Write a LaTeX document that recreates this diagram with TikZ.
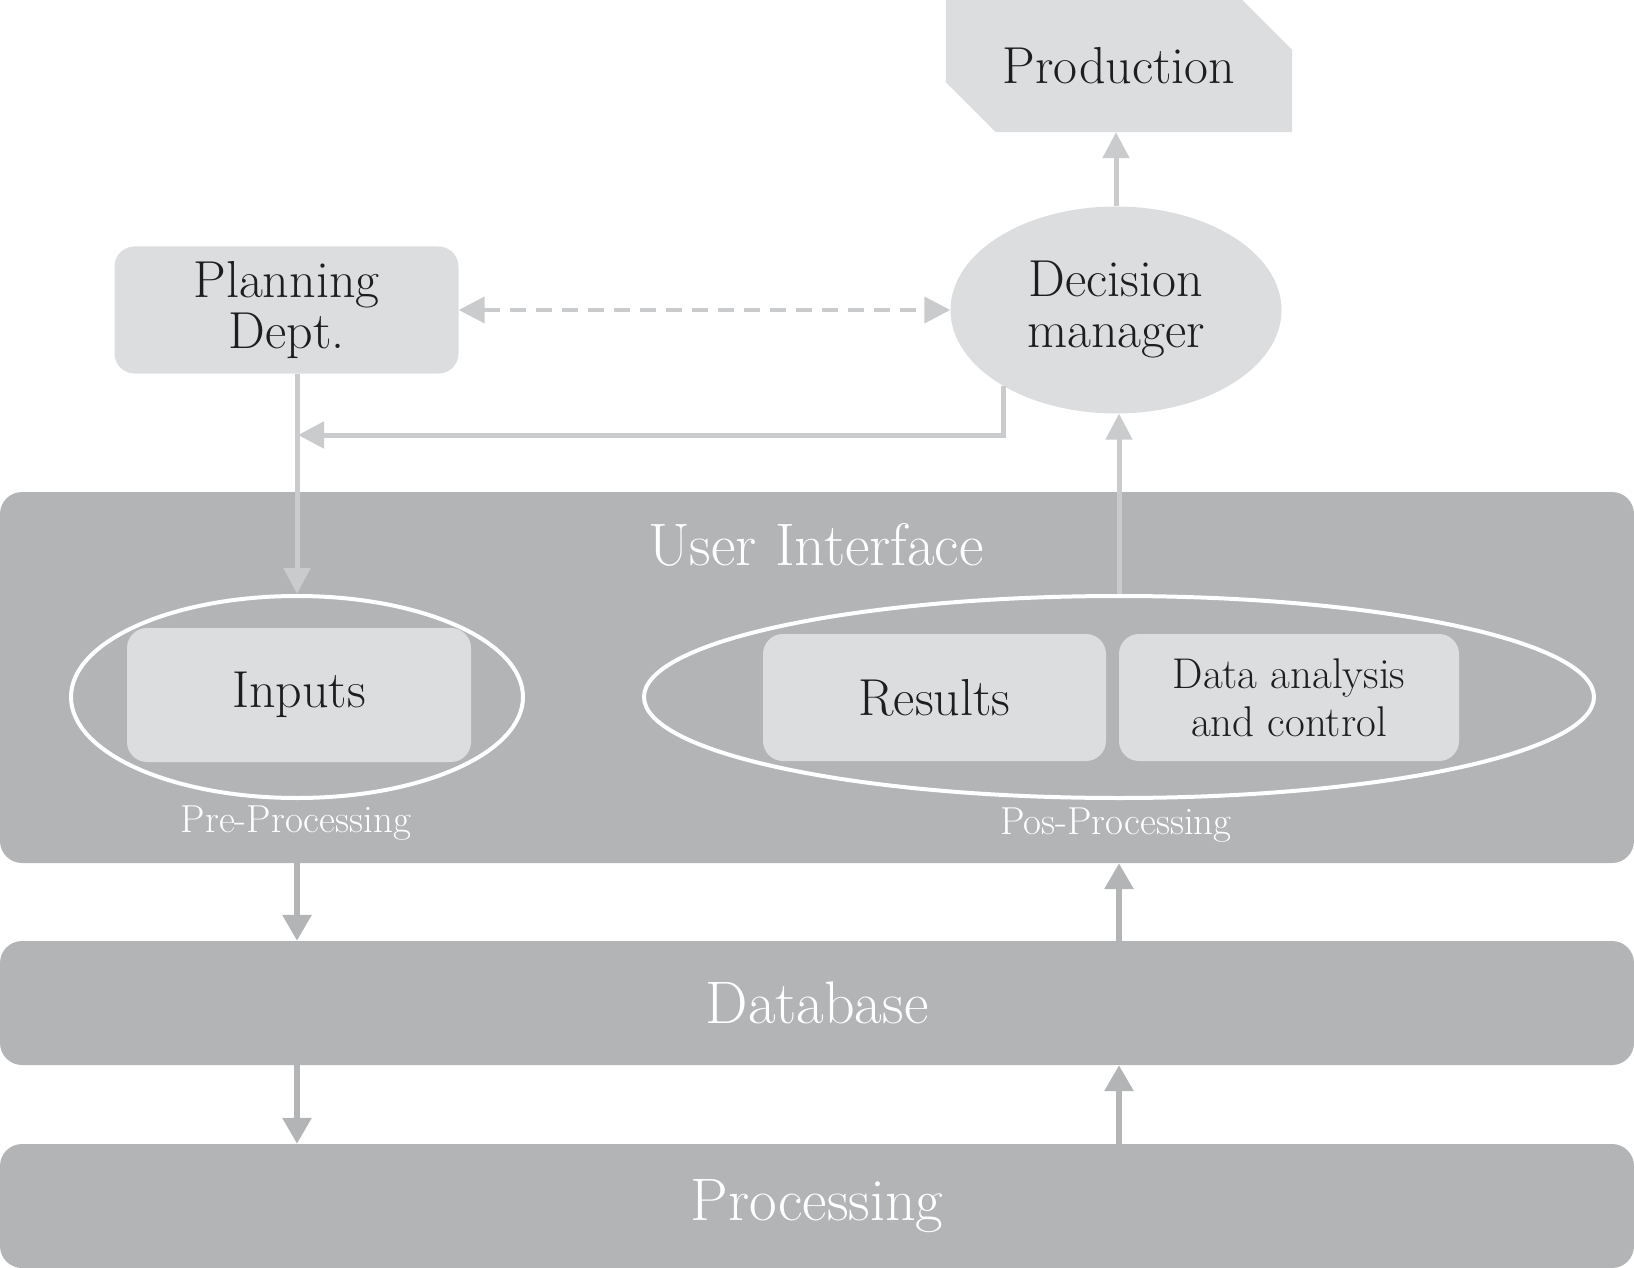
\documentclass[tikz,border=0pt]{standalone}
\usepackage{tikz}
\usetikzlibrary{arrows.meta,positioning,shapes.geometric,backgrounds}

\definecolor{panelgray}{RGB}{179,180,182}
\definecolor{boxgray}{RGB}{220,221,223}
\definecolor{arrowgray}{RGB}{202,203,205}
\definecolor{textdark}{RGB}{30,30,30}

\begin{document}
\begin{tikzpicture}[x=1pt, y=-1pt,
  every node/.style={font=\fontsize{52}{51}\selectfont, text=textdark},
  panel/.style={fill=panelgray, rounded corners=22pt, minimum width=1634pt, inner sep=0pt, text=white, font=\fontsize{60}{60}\selectfont},
  boxbig/.style={fill=boxgray, rounded corners=20pt, align=center, inner sep=0pt},
  procring/.style={draw=white, line width=4pt, ellipse, inner sep=0pt},
  paneltext/.style={text=white},
  smalltext/.style={font=\fontsize{39}{40}\selectfont},
  uplink/.style={draw=arrowgray, line width=5pt, -{Triangle[width=26pt,length=26pt]}},
  lowlink/.style={draw=panelgray, line width=6pt, -{Triangle[width=28pt,length=26pt]}}
]
  \useasboundingbox (0,0) rectangle (1634,1268);
  % bandes
  \node[panel, minimum height=371pt] (ui) at (817,677.5) {};
  \node[panel, minimum height=124pt] (db) at (817,1003) {Database};
  \node[panel, minimum height=124pt] (proc) at (817,1206) {Processing};
  \node[paneltext, font=\fontsize{60}{60}\selectfont] (uititle) at (816,545) {User Interface};

  % blocs du haut
  \node[minimum width=346pt, minimum height=132pt, inner sep=0pt] (prod) at (1119,66) {Production};
  \begin{scope}[on background layer]
    \fill[boxgray] (prod.north west) -- ([xshift=-50pt]prod.north east)
      -- ([yshift=-50pt]prod.north east) -- (prod.south east)
      -- ([xshift=50pt]prod.south west) -- ([yshift=50pt]prod.south west) -- cycle;
  \end{scope}
  \node[boxbig, minimum width=344pt, minimum height=127pt] (plan) at (286.5,310) {Planning\\Dept.};
  \node[ellipse, fill=boxgray, minimum width=331pt, minimum height=207pt, inner sep=0pt, align=center] (dec) at (1116,310) {Decision\\manager};

  % interface
  \node[boxbig, minimum width=344pt, minimum height=134pt] (inputs) at (299,695) {Inputs};
  \node[boxbig, minimum width=343pt, minimum height=127pt] (results) at (934.5,697.5) {Results};
  \node[boxbig, minimum width=340pt, minimum height=127pt, font=\fontsize{43}{48}\selectfont] (analysis) at (1289,697.5) {Data analysis\\and control};
  \node[procring, minimum width=452pt, minimum height=202pt] (preell) at (297,697) {};
  \node[procring, minimum width=950pt, minimum height=202pt] (posell) at (1119,697) {};
  \node[paneltext, smalltext] (prelabel) at (296,823) {Pre-Processing};
  \node[paneltext, smalltext] (poslabel) at (1116,825) {Pos-Processing};

  % fleches
  \coordinate (join) at (298,435);
  \draw[uplink] (dec.north) -- (dec.north |- prod.south);
  \draw[uplink, line width=4pt, dash pattern=on 16pt off 10pt,
    {Triangle[width=26pt,length=26pt]}-{Triangle[width=26pt,length=26pt]}] (plan.east) -- (dec.west);
  \draw[uplink] (preell.north |- plan.south) -- (preell.north);
  \draw[uplink] (dec.214) |- (join);
  \draw[uplink] (posell.north) -- (posell.north |- dec.south);
  \draw[lowlink, xshift=4pt] (preell.south |- ui.south) -- (preell.south |- db.north);
  \draw[lowlink, xshift=4pt] (preell.south |- db.south) -- (preell.south |- proc.north);
  \draw[lowlink, xshift=2pt] (posell.south |- db.north) -- (posell.south |- ui.south);
  \draw[lowlink, xshift=2pt] (posell.south |- proc.north) -- (posell.south |- db.south);
\end{tikzpicture}
\end{document}
